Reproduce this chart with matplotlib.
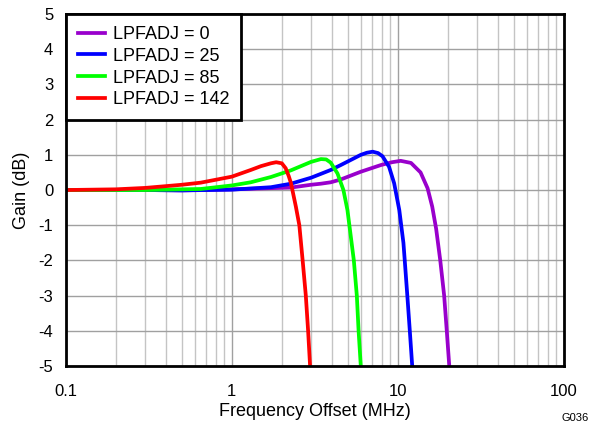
import matplotlib.pyplot as plt
from matplotlib.ticker import NullFormatter, LogLocator

plt.rcParams['font.family'] = ['Liberation Sans', 'DejaVu Sans']
plt.rcParams['axes.unicode_minus'] = False

# LPFADJ = 0
freq_0 = [0.1, 0.2, 0.3, 0.5, 1.0, 2.27, 3.0, 3.44, 3.94, 4.53, 5.98, 7.9, 9.2, 10.4, 12.0, 13.7, 15.1, 16.1, 17.0, 18.0, 19.0, 19.7, 20.4]
gain_0 = [0.0, 0.0, 0.0, -0.01, 0.02, 0.07, 0.15, 0.18, 0.22, 0.3, 0.52, 0.71, 0.79, 0.83, 0.77, 0.5, 0.05, -0.47, -1.1, -2.0, -3.0, -4.0, -5.0]

# LPFADJ = 25
freq_25 = [0.1, 0.3, 0.5, 1.0, 1.72, 2.27, 3.0, 3.44, 3.94, 4.53, 5.98, 6.5, 7.05, 7.6, 8.08, 8.85, 9.5, 10.2, 10.8, 11.0, 11.4, 11.8, 12.2]
gain_25 = [0.0, 0.0, -0.01, 0.01, 0.08, 0.18, 0.35, 0.46, 0.57, 0.71, 1.0, 1.06, 1.09, 1.05, 0.96, 0.66, 0.19, -0.57, -1.5, -2.0, -3.0, -4.0, -5.0]

# LPFADJ = 85
freq_85 = [0.1, 0.3, 0.5, 0.65, 1.0, 1.3, 1.72, 2.27, 3.0, 3.44, 3.7, 3.94, 4.33, 4.7, 4.97, 5.33, 5.43, 5.66, 5.8, 5.98]
gain_85 = [0.0, 0.0, 0.02, 0.03, 0.13, 0.22, 0.37, 0.56, 0.8, 0.88, 0.87, 0.78, 0.47, 0.0, -0.57, -1.7, -2.0, -3.0, -4.0, -5.0]

# LPFADJ = 142
freq_142 = [0.1, 0.2, 0.3, 0.4, 0.5, 0.65, 1.0, 1.3, 1.5, 1.72, 1.85, 2.0, 2.11, 2.2, 2.27, 2.43, 2.55, 2.67, 2.79, 2.88, 2.96]
gain_142 = [0.0, 0.02, 0.06, 0.11, 0.15, 0.21, 0.38, 0.57, 0.68, 0.76, 0.79, 0.76, 0.62, 0.4, 0.2, -0.47, -1.0, -2.0, -3.0, -4.0, -5.0]

series = [
    (freq_0, gain_0, 'LPFADJ = 0', '#9900cc'),
    (freq_25, gain_25, 'LPFADJ = 25', '#0000ff'),
    (freq_85, gain_85, 'LPFADJ = 85', '#00ff00'),
    (freq_142, gain_142, 'LPFADJ = 142', '#ff0000'),
]

fig = plt.figure(figsize=(5.98, 4.28), dpi=100)
ax = fig.add_axes([0.110, 0.145, 0.833, 0.822])

for f, g, lab, col in series:
    ax.plot(f, g, color=col, lw=2.7, label=lab, solid_joinstyle='round')

ax.set_xscale('log')
ax.set_xlim(0.1, 100)
ax.set_ylim(-5, 5)
ax.set_yticks(range(-5, 6))
ax.set_xticks([0.1, 1, 10, 100])
ax.set_xticklabels(['0.1', '1', '10', '100'])
ax.xaxis.set_minor_locator(LogLocator(base=10, subs=range(2, 10)))
ax.xaxis.set_minor_formatter(NullFormatter())
ax.grid(True, which='major', color='#a0a0a0', lw=1.0)
ax.grid(True, which='minor', axis='x', color='#c4c4c4', lw=1.0)
ax.set_axisbelow(True)
ax.tick_params(which='both', length=0, labelsize=12)
ax.tick_params(axis='x', pad=13)
ax.tick_params(axis='y', pad=9)
for s in ax.spines.values():
    s.set_linewidth(2)

ax.set_xlabel('Frequency Offset (MHz)', fontsize=13, labelpad=3)
ax.set_ylabel('Gain (dB)', fontsize=13, labelpad=6)

leg = ax.legend(loc='upper left', fontsize=13, frameon=True, fancybox=False,
                borderaxespad=0, handlelength=1.5, handletextpad=0.45,
                labelspacing=0.27, borderpad=0.65)
leg.get_frame().set_edgecolor('black')
leg.get_frame().set_linewidth(2)
leg.get_frame().set_alpha(1)

fig.text(0.985, 0.012, 'G036', fontsize=8, ha='right', va='bottom')

fig.savefig('out.png', dpi=100)
